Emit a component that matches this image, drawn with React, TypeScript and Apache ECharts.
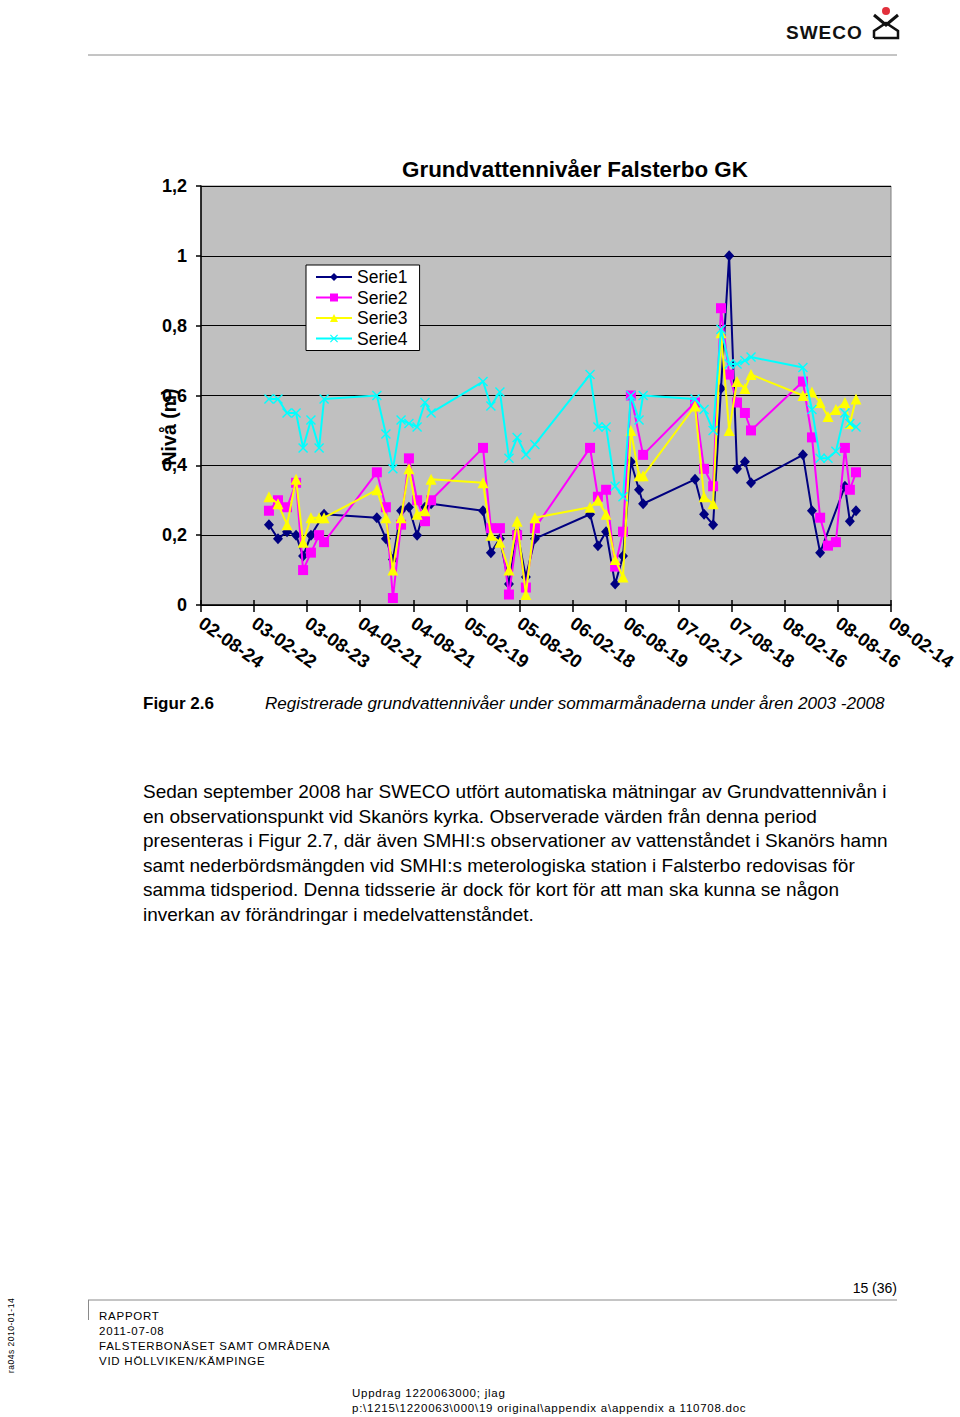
import React, { useEffect, useRef } from "react";
import * as echarts from "echarts";

const FONT = '"Liberation Sans", Arial, Helvetica, sans-serif';

// Axis: days counted from 2002-08-24, ticks every 182 days
const AXIS_START = "2002-08-24";
const TICK_DAYS = 182;
const TICK_COUNT = 13;
const Y_MIN = 0;
const Y_MAX = 1.2;
const Y_STEP = 0.2;

// Measurement dates (shared by all four series)
const dates = [
  "2003-04-14", "2003-05-15", "2003-06-15", "2003-07-16", "2003-08-09", "2003-09-05", "2003-10-03", "2003-10-20",
  "2004-04-18", "2004-05-19", "2004-06-12", "2004-07-10", "2004-08-06", "2004-09-03", "2004-09-30", "2004-10-21",
  "2005-04-17", "2005-05-14", "2005-06-14", "2005-07-15", "2005-08-12", "2005-09-11", "2005-10-12",
  "2006-04-19", "2006-05-16", "2006-06-13", "2006-07-14", "2006-08-10", "2006-09-06", "2006-10-04", "2006-10-18",
  "2007-04-14", "2007-05-15", "2007-06-15", "2007-07-12", "2007-08-09", "2007-09-05", "2007-10-02", "2007-10-23",
  "2008-04-18", "2008-05-19", "2008-06-16", "2008-07-13", "2008-08-09", "2008-09-09", "2008-09-26", "2008-10-17",
];

const serie1 = [
  0.23, 0.19, 0.21, 0.20, 0.14, 0.20, null, 0.26,
  0.25, 0.19, 0.13, 0.27, 0.28, 0.20, 0.28, 0.29,
  0.27, 0.15, 0.19, 0.06, 0.21, 0.08, 0.19,
  0.26, 0.17, 0.21, 0.06, 0.14, 0.41, 0.33, 0.29,
  0.36, 0.26, 0.23, 0.62, 1.00, 0.39, 0.41, 0.35,
  0.43, 0.27, 0.15, null, null, 0.34, 0.24, 0.27,
];
const serie2 = [
  0.27, 0.30, 0.28, 0.35, 0.10, 0.15, 0.20, 0.18,
  0.38, 0.28, 0.02, 0.23, 0.42, 0.30, 0.24, 0.30,
  0.45, 0.22, 0.22, 0.03, 0.20, 0.05, 0.22,
  0.45, 0.31, 0.33, 0.11, 0.21, 0.60, null, 0.43,
  0.58, 0.39, 0.34, 0.85, 0.66, 0.58, 0.55, 0.50,
  0.64, 0.48, 0.25, 0.17, 0.18, 0.45, 0.33, 0.38,
];
const serie3 = [
  0.31, 0.29, 0.23, 0.36, 0.18, 0.25, 0.25, 0.25,
  0.33, 0.25, 0.10, 0.25, 0.39, 0.26, 0.27, 0.36,
  0.35, 0.20, 0.18, 0.10, 0.24, 0.03, 0.25,
  0.28, 0.30, 0.26, 0.13, 0.08, 0.50, 0.37, 0.37,
  0.57, 0.31, 0.29, 0.78, 0.50, 0.64, 0.62, 0.66,
  0.60, 0.61, 0.58, 0.54, 0.56, 0.58, 0.52, 0.59,
];
const serie4 = [
  0.59, 0.59, 0.55, 0.55, 0.45, 0.53, 0.45, 0.59,
  0.60, 0.49, 0.39, 0.53, 0.52, 0.51, 0.58, 0.55,
  0.64, 0.57, 0.61, 0.42, 0.48, 0.43, 0.46,
  0.66, 0.51, 0.51, 0.34, 0.31, 0.60, 0.53, 0.60,
  0.59, 0.56, 0.50, 0.79, 0.69, 0.69, 0.70, 0.71,
  0.68, 0.56, 0.42, 0.42, 0.44, 0.55, 0.52, 0.51,
];

const seriesNames = ["Serie1", "Serie2", "Serie3", "Serie4"];
const seriesValues = [serie1, serie2, serie3, serie4];
const seriesColors = ["#000080", "#FF00FF", "#FFFF00", "#00FFFF"];
const seriesSymbols = [
  "diamond",
  "rect",
  "triangle",
  "path://M0,1L1,0L5,4L9,0L10,1L6,5L10,9L9,10L5,6L1,10L0,9L4,5Z",
];
const seriesSymbolSizes = [[10, 11], 10, 11, 10];

const DAY_MS = 86400000;
function toUTC(s: string) {
  const [y, m, d] = s.split("-").map(Number);
  return Date.UTC(y, m - 1, d);
}
const BASE = toUTC(AXIS_START);
function dayOffset(s: string) {
  return Math.round((toUTC(s) - BASE) / DAY_MS);
}
function fmtDate(off: number) {
  const dt = new Date(BASE + Math.round(off) * DAY_MS);
  const yy = String(dt.getUTCFullYear() % 100).padStart(2, "0");
  const mm = String(dt.getUTCMonth() + 1).padStart(2, "0");
  const dd = String(dt.getUTCDate()).padStart(2, "0");
  return `${yy}-${mm}-${dd}`;
}
function fmtNum(v: number) {
  const r = Math.round(v * 10) / 10;
  return String(r).replace(".", ",");
}

const bodyLines = [
  "Sedan september 2008 har SWECO utfört automatiska mätningar av Grundvattennivån i",
  "en observationspunkt vid Skanörs kyrka. Observerade värden från denna period",
  "presenteras i Figur 2.7, där även SMHI:s observationer av vattenståndet i Skanörs hamn",
  "samt nederbördsmängden vid SMHI:s meterologiska station i Falsterbo redovisas för",
  "samma tidsperiod. Denna tidsserie är dock för kort för att man ska kunna se någon",
  "inverkan av förändringar i medelvattenståndet.",
];
const footerLeft = [
  "RAPPORT",
  "2011-07-08",
  "FALSTERBONÄSET SAMT OMRÅDENA",
  "VID HÖLLVIKEN/KÄMPINGE",
];
const footerBottom = [
  "Uppdrag 1220063000; jlag",
  "p:\\1215\\1220063\\000\\19 original\\appendix a\\appendix a 110708.doc",
];

function Chart() {
  const ref = useRef<HTMLDivElement>(null);
  useEffect(() => {
    if (!ref.current) return;
    const chart = echarts.init(ref.current, null, { renderer: "svg" });
    const xMax = TICK_DAYS * TICK_COUNT;
    const series = seriesNames.map((name, si) => ({
      name,
      type: "line",
      xAxisIndex: 0,
      data: dates
        .map((d, i) => [dayOffset(d), seriesValues[si][i]])
        .filter((p) => p[1] !== null),
      symbol: seriesSymbols[si],
      symbolSize: seriesSymbolSizes[si],
      showAllSymbol: true,
      lineStyle: { color: seriesColors[si], width: 2 },
      itemStyle: { color: seriesColors[si], borderWidth: 0 },
      emphasis: { disabled: true },
      z: 2 + si,
    }));
    chart.setOption({
      animation: false,
      textStyle: { fontFamily: FONT },
      grid: {
        left: 201,
        top: 186,
        width: 690,
        height: 419,
        show: true,
        backgroundColor: "#C0C0C0",
        borderColor: "#808080",
        borderWidth: 1,
      },
      legend: {
        orient: "vertical",
        left: 306,
        top: 265,
        data: seriesNames,
        backgroundColor: "#FFFFFF",
        borderColor: "#000000",
        borderWidth: 1,
        padding: [3, 12, 3, 9],
        itemGap: 2.5,
        itemWidth: 36,
        itemHeight: 10,
        textStyle: { fontSize: 17.5, color: "#000", fontFamily: FONT },
        selectedMode: false,
      },
      xAxis: [
        {
          type: "value",
          min: 0,
          max: xMax,
          interval: TICK_DAYS,
          position: "bottom",
          axisLine: { show: true, onZero: false, lineStyle: { color: "#000", width: 1.5 } },
          axisTick: { show: true, length: 7, lineStyle: { color: "#000", width: 1.5 } },
          splitLine: { show: false },
          axisLabel: {
            rotate: -35,
            margin: 16,
            fontSize: 18.5,
            fontWeight: "bold",
            color: "#000",
            fontFamily: FONT,
            showMinLabel: true,
            showMaxLabel: true,
            formatter: (v: number) => fmtDate(v),
          },
        },
        {
          type: "value",
          min: 0,
          max: xMax,
          interval: TICK_DAYS,
          position: "bottom",
          axisLine: { show: false },
          axisTick: { show: true, inside: true, length: 5, lineStyle: { color: "#000", width: 1.5 } },
          splitLine: { show: false },
          axisLabel: { show: false },
        },
      ],
      yAxis: {
        type: "value",
        min: Y_MIN,
        max: Y_MAX,
        interval: Y_STEP,
        axisLine: { show: true, lineStyle: { color: "#000", width: 1.5 } },
        axisTick: { show: true, length: 5, lineStyle: { color: "#000", width: 1.5 } },
        splitLine: { show: true, lineStyle: { color: "#000", width: 1 } },
        axisLabel: {
          margin: 14,
          fontSize: 18,
          fontWeight: "bold",
          color: "#000",
          fontFamily: FONT,
          formatter: (v: number) => fmtNum(v),
        },
      },
      graphic: [
        {
          type: "text",
          x: 575,
          y: 169,
          style: {
            text: "Grundvattennivåer Falsterbo GK",
            fontSize: 22.4,
            fontWeight: "bold",
            fontFamily: FONT,
            fill: "#000",
            align: "center",
            verticalAlign: "middle",
          },
        },
        {
          type: "text",
          x: 169,
          y: 427,
          rotation: Math.PI / 2,
          style: {
            text: "Nivå (m)",
            fontSize: 19.5,
            fontWeight: "bold",
            fontFamily: FONT,
            fill: "#000",
            align: "center",
            verticalAlign: "middle",
          },
        },
      ],
      series,
    });
    return () => chart.dispose();
  }, []);
  return (
    <div
      ref={ref}
      style={{ position: "absolute", left: 0, top: 0, width: 960, height: 720 }}
    />
  );
}

export default function App() {
  const txt: React.CSSProperties = {
    position: "absolute",
    whiteSpace: "nowrap",
    fontFamily: FONT,
    color: "#000",
    margin: 0,
  };
  return (
    <div
      style={{
        position: "absolute",
        left: 0,
        top: 0,
        width: 960,
        height: 1417,
        background: "#fff",
        overflow: "hidden",
      }}
    >
      {/* header */}
      <svg
        width={960}
        height={60}
        style={{ position: "absolute", left: 0, top: 0 }}
      >
        <text
          x={786}
          y={39}
          fontFamily={FONT}
          fontWeight="bold"
          fontSize={19}
          letterSpacing={1}
          fill="#111"
        >
          SWECO
        </text>
        <circle cx={886} cy={11} r={4} fill="#E2303C" />
        <polyline
          points="874,15 886,25 898,15"
          fill="none"
          stroke="#111"
          strokeWidth={3}
        />
        <polyline
          points="874,38 874,31 886,23 898,31 898,38 874,38"
          fill="none"
          stroke="#111"
          strokeWidth={2.5}
        />
        <line x1={88} y1={55} x2={897} y2={55} stroke="#8a8a8a" strokeWidth={1} />
      </svg>

      <Chart />

      {/* caption */}
      <div style={{ ...txt, left: 143, top: 694, fontSize: 17, lineHeight: "20px", fontWeight: "bold" }}>
        Figur 2.6
      </div>
      <div style={{ ...txt, left: 265, top: 694, fontSize: 17.1, lineHeight: "20px", fontStyle: "italic" }}>
        Registrerade grundvattennivåer under sommarmånaderna under åren 2003 -2008
      </div>

      {/* body */}
      {bodyLines.map((l, i) => (
        <div
          key={i}
          style={{ ...txt, left: 143, top: 781 + i * 24.6, fontSize: 19, lineHeight: "22px" }}
        >
          {l}
        </div>
      ))}

      {/* footer */}
      <div style={{ ...txt, right: 63, top: 1280, fontSize: 14, lineHeight: "16px" }}>15 (36)</div>
      <svg width={960} height={40} style={{ position: "absolute", left: 0, top: 1290 }}>
        <line x1={88} y1={10} x2={897} y2={10} stroke="#8a8a8a" strokeWidth={1} />
        <line x1={88.5} y1={10} x2={88.5} y2={30} stroke="#8a8a8a" strokeWidth={1} />
      </svg>
      {footerLeft.map((l, i) => (
        <div
          key={i}
          style={{ ...txt, left: 99, top: 1309 + i * 15, fontSize: 11.5, lineHeight: "14px", letterSpacing: 0.75 }}
        >
          {l}
        </div>
      ))}
      {footerBottom.map((l, i) => (
        <div
          key={i}
          style={{ ...txt, left: 352, top: 1386 + i * 15, fontSize: 11.5, lineHeight: "14px", letterSpacing: 0.75 }}
        >
          {l}
        </div>
      ))}
      <div
        style={{
          ...txt,
          left: 6,
          top: 1373,
          fontSize: 8.5,
          lineHeight: "10px",
          letterSpacing: 0.5,
          transformOrigin: "0 0",
          transform: "rotate(-90deg)",
        }}
      >
        ra04s 2010-01-14
      </div>
    </div>
  );
}
